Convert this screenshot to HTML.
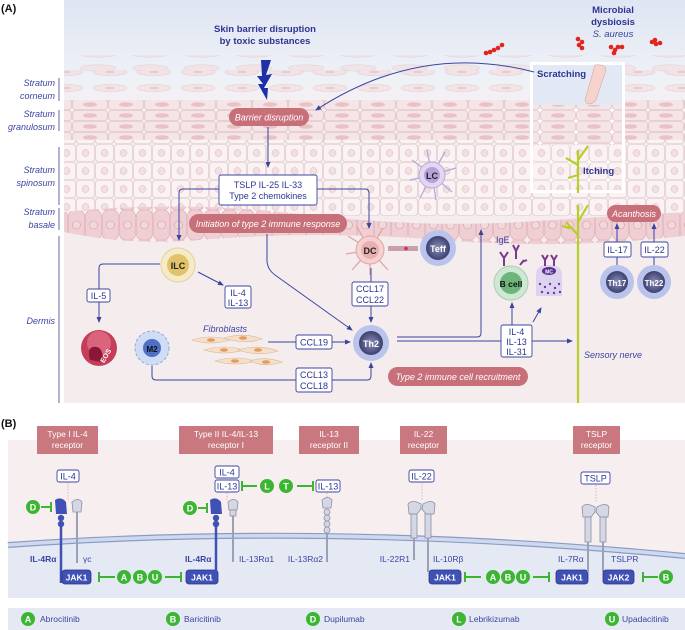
<!DOCTYPE html>
<html><head><meta charset="utf-8"><style>
html,body{margin:0;padding:0;background:#fff;}
svg{display:block;font-family:"Liberation Sans",sans-serif;}
.bx{fill:#fff;stroke:#3b45a0;stroke-width:0.9;}
.t{font-size:9px;fill:#2e3592;text-anchor:middle;}
.ln{stroke:#3b45a0;stroke-width:1;fill:none;}
.pill{fill:#c8707a;}
.pt{font-size:9px;fill:#fff;font-style:italic;text-anchor:middle;}
.hd{fill:#c9787f;}
.ht{font-size:8.5px;fill:#fff;text-anchor:middle;}
.g{fill:#3cb532;}
.gt{font-size:9px;fill:#fff;font-weight:bold;text-anchor:middle;}
.gl{stroke:#3cb532;stroke-width:2;fill:none;}
.jak{fill:#3f51b5;stroke:#2a3585;stroke-width:0.8;}
.jt{font-size:8.5px;fill:#fff;font-weight:bold;text-anchor:middle;}
.rl{font-size:8.5px;fill:#3b45a0;}
.sl{font-size:9px;fill:#3b45a0;font-style:italic;text-anchor:end;}
.gr{fill:#d5d8e4;stroke:#8a8fa3;stroke-width:0.8;}
</style></head><body>
<svg width="685" height="630" viewBox="0 0 685 630" xmlns="http://www.w3.org/2000/svg">
<defs>
<linearGradient id="sky" x1="0" y1="0" x2="0" y2="1">
<stop offset="0" stop-color="#dfe5f2"/><stop offset="0.7" stop-color="#eef1f7"/><stop offset="1" stop-color="#f6f0f1"/>
</linearGradient>
<pattern id="gran" width="36" height="11" patternUnits="userSpaceOnUse">
<rect x="0.5" y="0.5" width="35" height="10" rx="3" fill="#f6e5e7" stroke="#d9b8bc" stroke-width="0.6"/>
<ellipse cx="18" cy="5.5" rx="7" ry="2.3" fill="#e9c2c7"/>
</pattern>
<pattern id="spin" width="19" height="18" patternUnits="userSpaceOnUse">
<rect x="0.5" y="0.5" width="18" height="17" rx="3" fill="#faf2f3" stroke="#ddc6c9" stroke-width="0.6"/>
<circle cx="9.5" cy="9" r="3.5" fill="#f3dfe1" stroke="#d8b8bc" stroke-width="0.5"/>
</pattern>
<pattern id="bas" width="17" height="30" patternUnits="userSpaceOnUse">
<rect x="0.5" y="0" width="16" height="30" rx="6" fill="#efcfd3" stroke="#dcaab0" stroke-width="0.6"/>
<circle cx="8.5" cy="15" r="4" fill="#f2d8db" stroke="#d3a0a6" stroke-width="0.6"/>
</pattern>
<pattern id="corn" width="44" height="16" patternUnits="userSpaceOnUse">
<ellipse cx="22" cy="8" rx="17" ry="3.5" fill="#f3e2e4" stroke="#dcc0c3" stroke-width="0.5"/>
<ellipse cx="22" cy="8" rx="5" ry="1.2" fill="#e7c7cb"/>
</pattern>
<pattern id="corn2" width="52" height="14" patternUnits="userSpaceOnUse" patternTransform="translate(20,5)">
<ellipse cx="26" cy="7" rx="18" ry="3.2" fill="#f1dfe1" stroke="#dcc0c3" stroke-width="0.5"/>
</pattern>
<radialGradient id="blueCell"><stop offset="0" stop-color="#8a8fb5"/><stop offset="1" stop-color="#3d4070"/></radialGradient>
<marker id="ar" markerWidth="6" markerHeight="6" refX="5" refY="3" orient="auto"><path d="M0,0.5 L6,3 L0,5.5 z" fill="#3b45a0"/></marker>
</defs>

<!-- PANEL A -->
<text x="1" y="12" font-size="11" font-weight="bold" fill="#111">(A)</text>
<rect x="64" y="0" width="621" height="403" fill="#f4eced"/>
<rect x="64" y="0" width="621" height="110" fill="url(#sky)"/>
<rect x="64" y="55" width="621" height="22" fill="url(#corn2)" opacity="0.7"/>
<rect x="64" y="70" width="621" height="32" fill="url(#corn)" opacity="0.9"/>
<rect x="64" y="100" width="621" height="42" fill="url(#gran)"/>
<rect x="64" y="140" width="621" height="76" fill="url(#spin)"/>
<path d="M64,212 Q180,200 300,214 T520,222 T685,212 L685,236 Q560,250 440,240 T200,240 T64,232 Z" fill="url(#bas)"/>
<path d="M64,232 Q130,246 200,240 T440,240 Q560,250 685,236 L685,403 L64,403 Z" fill="#f4eced"/>

<g class="sl">
<text x="55" y="86">Stratum</text><text x="55" y="99">corneum</text>
<text x="55" y="117">Stratum</text><text x="55" y="130">granulosum</text>
<text x="55" y="173">Stratum</text><text x="55" y="186">spinosum</text>
<text x="55" y="215">Stratum</text><text x="55" y="228">basale</text>
<text x="55" y="324">Dermis</text>
</g>
<g stroke="#3b45a0" stroke-width="0.8">
<line x1="59" y1="78" x2="59" y2="101"/><line x1="59" y1="110" x2="59" y2="131"/>
<line x1="59" y1="147" x2="59" y2="205"/><line x1="59" y1="208" x2="59" y2="230"/>
<line x1="59" y1="236" x2="59" y2="403"/>
</g>

<text x="265" y="32" font-size="9.5" font-weight="bold" fill="#2e3592" text-anchor="middle">Skin barrier disruption</text>
<text x="265" y="44" font-size="9.5" font-weight="bold" fill="#2e3592" text-anchor="middle">by toxic substances</text>
<path d="M261,60 L271,60 L266,75 L272,74 L264,88 L268,88 L267,100 L258,84 L263,84 L257,76 L262,76 Z" fill="#1f2fa8"/>

<text x="613" y="13" font-size="9.5" font-weight="bold" fill="#2e3592" text-anchor="middle">Microbial</text>
<text x="613" y="25" font-size="9.5" font-weight="bold" fill="#2e3592" text-anchor="middle">dysbiosis</text>
<text x="613" y="37" font-size="9.5" font-style="italic" fill="#3b45a0" text-anchor="middle">S. aureus</text>
<g fill="#e3231e">
<circle cx="486" cy="53" r="2.3"/><circle cx="490" cy="52" r="2.3"/><circle cx="494" cy="50" r="2.3"/><circle cx="498" cy="48" r="2.3"/><circle cx="502" cy="45" r="2.3"/>
<circle cx="578" cy="39" r="2.3"/><circle cx="582" cy="42" r="2.3"/><circle cx="579" cy="45" r="2.3"/><circle cx="582" cy="48" r="2.3"/>
<circle cx="611" cy="47" r="2.3"/><circle cx="615" cy="50" r="2.3"/><circle cx="618" cy="47" r="2.3"/><circle cx="622" cy="47" r="2.3"/><circle cx="614" cy="53" r="2.3"/>
<circle cx="652" cy="42" r="2.3"/><circle cx="656" cy="44" r="2.3"/><circle cx="660" cy="43" r="2.3"/><circle cx="655" cy="40" r="2.3"/>
</g>

<rect x="530" y="62" width="95" height="131" fill="#fff"/>
<rect x="533" y="65" width="89" height="40" fill="#e3e9f4"/>
<rect x="533" y="105" width="89" height="40" fill="url(#gran)"/>
<rect x="533" y="145" width="89" height="45" fill="url(#spin)"/>
<path d="M595,65 Q606,64 606,70 L596,100 Q588,108 585,100 Z" fill="#f6d4cd" stroke="#d9a79d" stroke-width="0.6"/>
<text x="537" y="77" font-size="9.5" font-weight="bold" fill="#2e3592">Scratching</text>
<path d="M578,193 L578,150 M578,165 L566,158 M578,160 L588,146 M578,175 L568,178" stroke="#b6cf2a" stroke-width="2.2" fill="none"/>
<text x="583" y="174" font-size="9.5" font-weight="bold" fill="#2e3592">Itching</text>
<path d="M534,72 Q420,42 316,110" class="ln" marker-end="url(#ar)"/>

<path d="M578,403 L578,205 M578,235 L566,222 M578,222 L588,205 M570,228 L562,226" stroke="#b6cf2a" stroke-width="2.2" fill="none"/>
<text x="613" y="358" font-size="9" font-style="italic" fill="#3b45a0" text-anchor="middle">Sensory nerve</text>

<rect x="229" y="108" width="80" height="18" rx="9" class="pill"/>
<text x="269" y="120.5" class="pt">Barrier disruption</text>
<line x1="268" y1="127" x2="268" y2="167" class="ln" marker-end="url(#ar)"/>
<rect x="219" y="175" width="98" height="30" rx="2" class="bx"/>
<text x="268" y="188" class="t">TSLP   IL-25   IL-33</text>
<text x="268" y="199" class="t">Type 2 chemokines</text>
<path d="M219,189 L183,189 Q179,189 179,193 L179,240" class="ln" marker-end="url(#ar)"/>
<path d="M317,189 L365,189 Q369,189 369,193 L369,228" class="ln" marker-end="url(#ar)"/>
<rect x="189" y="214" width="158" height="19" rx="9.5" class="pill"/>
<text x="268" y="227" class="pt">Initiation of type 2 immune response</text>
<rect x="607" y="205" width="54" height="17" rx="8.5" class="pill"/>
<text x="634" y="217" class="pt">Acanthosis</text>
<rect x="388" y="367" width="140" height="19" rx="9.5" class="pill"/>
<text x="458" y="380" class="pt">Type 2 immune cell recruitment</text>

<g stroke="#b7a9d6" stroke-width="1.3">
<line x1="432" y1="175" x2="412" y2="160"/><line x1="432" y1="175" x2="410" y2="180"/><line x1="432" y1="175" x2="420" y2="198"/><line x1="432" y1="175" x2="436" y2="200"/><line x1="432" y1="175" x2="452" y2="192"/><line x1="432" y1="175" x2="456" y2="168"/><line x1="432" y1="175" x2="445" y2="152"/><line x1="432" y1="175" x2="427" y2="150"/>
</g>
<circle cx="432" cy="175" r="13" fill="#e2d6f2" stroke="#b7a9d6"/>
<circle cx="432" cy="175" r="8" fill="#b6a2d9"/>
<text x="432" y="179" font-size="9" font-weight="bold" fill="#222" text-anchor="middle">LC</text>

<g stroke="#e0a5a5" stroke-width="1.3">
<line x1="370" y1="250" x2="348" y2="236"/><line x1="370" y1="250" x2="346" y2="254"/><line x1="370" y1="250" x2="352" y2="270"/><line x1="370" y1="250" x2="370" y2="275"/><line x1="370" y1="250" x2="388" y2="270"/><line x1="370" y1="250" x2="357" y2="227"/><line x1="370" y1="250" x2="383" y2="228"/>
</g>
<circle cx="370" cy="250" r="14" fill="#f5d2d1" stroke="#e0a5a5"/>
<circle cx="370" cy="250" r="9" fill="#eab0b0"/>
<text x="370" y="254" font-size="9" font-weight="bold" fill="#222" text-anchor="middle">DC</text>
<rect x="388" y="246" width="30" height="5" fill="#c9a0a8"/><circle cx="406" cy="248.5" r="1.8" fill="#e0206f"/>
<circle cx="438" cy="248" r="18" fill="#b9c3ec"/><circle cx="438" cy="248" r="12" fill="url(#blueCell)"/>
<text x="438" y="252" font-size="9" font-weight="bold" fill="#fff" text-anchor="middle">Teff</text>

<circle cx="178" cy="265" r="17" fill="#f5ebc9" stroke="#e3d39a"/><circle cx="178" cy="265" r="11" fill="#e2c36a"/>
<text x="178" y="269" font-size="9" font-weight="bold" fill="#222" text-anchor="middle">ILC</text>
<path d="M160,264 L103,264 Q99,264 99,268 L99,322" class="ln" marker-end="url(#ar)"/>
<rect x="87" y="289" width="23" height="13" rx="2" class="bx"/><text x="98.5" y="299" class="t">IL-5</text>
<line x1="198" y1="272" x2="223" y2="285" class="ln" marker-end="url(#ar)"/>
<rect x="225" y="286" width="26" height="22" rx="2" class="bx"/><text x="238" y="296" class="t">IL-4</text><text x="238" y="306" class="t">IL-13</text>

<circle cx="99" cy="348" r="18" fill="#c43e5a"/><circle cx="99" cy="343" r="12" fill="#e77f93" opacity="0.6"/>
<path d="M90,360 Q86,345 97,347 Q104,349 102,362 Z" fill="#8a1736"/>
<text x="106" y="358" font-size="7" font-weight="bold" fill="#fff" text-anchor="middle" transform="rotate(-60 106 356)">EOS</text>
<circle cx="152" cy="348" r="17" fill="#cfdcf5" stroke="#93a9d8" stroke-dasharray="3 2"/>
<circle cx="152" cy="348" r="9" fill="#4f6fc4"/>
<text x="152" y="352" font-size="8" font-weight="bold" fill="#111" text-anchor="middle">M2</text>

<text x="225" y="332" font-size="9" font-style="italic" fill="#3b45a0" text-anchor="middle">Fibroblasts</text>
<g fill="#f6dfc9" stroke="#d7b797" stroke-width="0.6">
<path d="M192,340 Q210,334 230,340 Q210,346 192,340 Z"/><path d="M224,338 Q245,332 262,339 Q245,345 224,338 Z"/>
<path d="M204,350 Q224,344 244,350 Q224,356 204,350 Z"/><path d="M238,350 Q258,344 278,351 Q258,357 238,350 Z"/>
<path d="M215,361 Q235,355 255,361 Q235,367 215,361 Z"/><path d="M250,361 Q265,356 282,362 Q265,368 250,361 Z"/>
</g>
<g fill="#e39c5e"><ellipse cx="211" cy="340" rx="4" ry="1.8"/><ellipse cx="243" cy="338" rx="4" ry="1.8"/><ellipse cx="224" cy="350" rx="4" ry="1.8"/><ellipse cx="258" cy="350" rx="4" ry="1.8"/><ellipse cx="235" cy="361" rx="4" ry="1.8"/><ellipse cx="266" cy="362" rx="4" ry="1.8"/></g>
<line x1="268" y1="342" x2="296" y2="342" class="ln"/>
<rect x="296" y="335" width="36" height="14" rx="2" class="bx"/><text x="314" y="345.5" class="t">CCL19</text>
<line x1="332" y1="342" x2="350" y2="342" class="ln" marker-end="url(#ar)"/>

<circle cx="371" cy="343" r="18" fill="#b9c3ec"/><circle cx="371" cy="343" r="12" fill="url(#blueCell)"/>
<text x="371" y="347" font-size="9" font-weight="bold" fill="#fff" text-anchor="middle">Th2</text>
<line x1="371" y1="268" x2="371" y2="282" class="ln"/>
<rect x="352" y="282" width="36" height="24" rx="2" class="bx"/><text x="370" y="292" class="t">CCL17</text><text x="370" y="303" class="t">CCL22</text>
<line x1="371" y1="306" x2="371" y2="322" class="ln" marker-end="url(#ar)"/>
<path d="M267,234 L267,262 Q268,270 275,275 L352,330" class="ln" marker-end="url(#ar)"/>
<path d="M152,366 L152,376 Q152,380 156,380 L296,380" class="ln"/>
<rect x="296" y="368" width="36" height="24" rx="2" class="bx"/><text x="314" y="378" class="t">CCL13</text><text x="314" y="389" class="t">CCL18</text>
<path d="M332,380 L367,380 Q371,380 371,376 L371,363" class="ln" marker-end="url(#ar)"/>
<path d="M397,337 L477,337 Q481,337 481,333 L481,230" class="ln" marker-end="url(#ar)"/>
<line x1="397" y1="341" x2="501" y2="341" class="ln"/>
<rect x="501" y="325" width="31" height="32" rx="2" class="bx"/><text x="516.5" y="335" class="t">IL-4</text><text x="516.5" y="345" class="t">IL-13</text><text x="516.5" y="355" class="t">IL-31</text>
<line x1="532" y1="341" x2="572" y2="341" class="ln" marker-end="url(#ar)"/>
<line x1="512" y1="325" x2="512" y2="303" class="ln" marker-end="url(#ar)"/>
<line x1="533" y1="322" x2="541" y2="308" class="ln" marker-end="url(#ar)"/>

<text x="496" y="243" font-size="9" fill="#3b45a0">IgE</text>
<g stroke="#7b3a8c" stroke-width="2" fill="none"><path d="M500,252 L504,258 L508,252 M504,258 L504,266"/><path d="M513,245 L516,251 L519,245 M516,251 L516,259"/><path d="M520,265 L524,260 M522,262 L527,260"/></g>
<circle cx="511" cy="283" r="17" fill="#cfe8d3" stroke="#a6cfae"/><circle cx="511" cy="283" r="11" fill="#6db57a"/>
<text x="511" y="287" font-size="8.5" font-weight="bold" fill="#111" text-anchor="middle">B cell</text>
<path d="M536,275 Q536,265 549,265 Q562,265 562,275 L562,296 L536,296 Z" fill="#dcd3f0"/>
<ellipse cx="549" cy="271" rx="7" ry="4" fill="#5b2f8c"/><text x="549" y="273.5" font-size="5" fill="#fff" font-weight="bold" text-anchor="middle">MC</text>
<g fill="#6b3aa0"><circle cx="540" cy="284" r="1.2"/><circle cx="545" cy="287" r="1.2"/><circle cx="550" cy="284" r="1.2"/><circle cx="555" cy="288" r="1.2"/><circle cx="559" cy="284" r="1.2"/><circle cx="542" cy="292" r="1.2"/><circle cx="548" cy="293" r="1.2"/><circle cx="554" cy="293" r="1.2"/><circle cx="560" cy="292" r="1.2"/></g>
<g stroke="#7b3a8c" stroke-width="2" fill="none"><path d="M542,255 L545,260 L548,255 M545,260 L545,266"/><path d="M551,255 L554,260 L557,255 M554,260 L554,266"/></g>

<line x1="617" y1="242" x2="617" y2="224" class="ln" marker-end="url(#ar)"/>
<line x1="654" y1="242" x2="654" y2="224" class="ln" marker-end="url(#ar)"/>
<rect x="604" y="242" width="27" height="15" rx="2" class="bx"/><text x="617.5" y="253" class="t">IL-17</text>
<rect x="641" y="242" width="27" height="15" rx="2" class="bx"/><text x="654.5" y="253" class="t">IL-22</text>
<line x1="617" y1="257" x2="617" y2="265" class="ln"/><line x1="654" y1="257" x2="654" y2="265" class="ln"/>
<circle cx="617" cy="282" r="17" fill="#b9c3ec"/><circle cx="617" cy="282" r="11" fill="url(#blueCell)"/>
<text x="617" y="286" font-size="8" font-weight="bold" fill="#fff" text-anchor="middle">Th17</text>
<circle cx="654" cy="282" r="17" fill="#b9c3ec"/><circle cx="654" cy="282" r="11" fill="url(#blueCell)"/>
<text x="654" y="286" font-size="8" font-weight="bold" fill="#fff" text-anchor="middle">Th22</text>

<!-- PANEL B -->
<text x="1" y="427" font-size="11" font-weight="bold" fill="#111">(B)</text>
<rect x="8" y="440" width="677" height="158" fill="#f7efef"/>
<path d="M8,545 Q330,522 685,556 L685,598 L8,598 Z" fill="#e4e9f4"/>
<path d="M8,545 Q330,522 685,556" stroke="#8b9bc6" stroke-width="6" fill="none"/>
<path d="M8,545 Q330,522 685,556" stroke="#cfd9ee" stroke-width="3.6" fill="none"/>

<g>
<rect x="37" y="426" width="61" height="28" class="hd"/><text x="67.5" y="437" class="ht">Type I IL-4</text><text x="67.5" y="448" class="ht">receptor</text>
<rect x="179" y="426" width="94" height="28" class="hd"/><text x="226" y="437" class="ht">Type II IL-4/IL-13</text><text x="226" y="448" class="ht">receptor I</text>
<rect x="299" y="426" width="60" height="28" class="hd"/><text x="329" y="437" class="ht">IL-13</text><text x="329" y="448" class="ht">receptor II</text>
<rect x="400" y="426" width="47" height="28" class="hd"/><text x="423.5" y="437" class="ht">IL-22</text><text x="423.5" y="448" class="ht">receptor</text>
<rect x="573" y="426" width="47" height="28" class="hd"/><text x="596.5" y="437" class="ht">TSLP</text><text x="596.5" y="448" class="ht">receptor</text>
</g>

<g stroke="#e4a3ad" stroke-width="0.8" stroke-dasharray="1.5 1.5">
<line x1="68" y1="483" x2="68" y2="500"/><line x1="227" y1="493" x2="227" y2="500"/><line x1="327" y1="493" x2="327" y2="500"/><line x1="422" y1="483" x2="422" y2="500"/><line x1="596" y1="485" x2="596" y2="502"/>
</g>
<rect x="57" y="470" width="22" height="12" rx="2" class="bx"/><text x="68" y="479.5" class="t" font-size="8.5">IL-4</text>
<rect x="215" y="466" width="24" height="12" rx="2" class="bx"/><text x="227" y="475.5" class="t" font-size="8.5">IL-4</text>
<rect x="215" y="480" width="24" height="12" rx="2" class="bx"/><text x="227" y="489.5" class="t" font-size="8.5">IL-13</text>
<rect x="316" y="480" width="24" height="12" rx="2" class="bx"/><text x="328" y="489.5" class="t" font-size="8.5">IL-13</text>
<rect x="409" y="470" width="25" height="12" rx="2" class="bx"/><text x="421.5" y="479.5" class="t" font-size="8.5">IL-22</text>
<rect x="581" y="472" width="29" height="12" rx="2" class="bx"/><text x="595.5" y="481.5" class="t" font-size="8.5">TSLP</text>

<line x1="61" y1="515" x2="61" y2="583" stroke="#3f51b5" stroke-width="2.5"/>
<path d="M55,500 Q61,496 66,502 L67,514 L56,514 Z" fill="#3f51b5"/>
<circle cx="61" cy="518" r="3.2" fill="#3f51b5"/><circle cx="61" cy="524" r="3.2" fill="#3f51b5"/>
<line x1="77" y1="512" x2="77" y2="563" stroke="#9aa0b5" stroke-width="2"/>
<path d="M72,502 Q78,497 82,502 L81,512 L73,512 Z" class="gr"/>
<line x1="41" y1="507" x2="50" y2="507" class="gl"/><line x1="51" y1="502" x2="51" y2="512" class="gl"/>
<circle cx="33" cy="507" r="7" class="g"/><text x="33" y="510.5" class="gt">D</text>
<text x="30" y="562" class="rl" font-weight="bold">IL-4Rα</text><text x="83" y="562" class="rl">γc</text>
<rect x="62" y="570" width="29" height="14" rx="3" class="jak"/><text x="76.5" y="580.5" class="jt">JAK1</text>
<line x1="100" y1="577" x2="115" y2="577" class="gl"/><line x1="99" y1="572" x2="99" y2="582" class="gl"/>
<circle cx="124" cy="577" r="7" class="g"/><text x="124" y="580.5" class="gt">A</text>
<circle cx="140" cy="577" r="7" class="g"/><text x="140" y="580.5" class="gt">B</text>
<circle cx="155" cy="577" r="7" class="g"/><text x="155" y="580.5" class="gt">U</text>
<line x1="165" y1="577" x2="180" y2="577" class="gl"/><line x1="181" y1="572" x2="181" y2="582" class="gl"/>
<rect x="186" y="570" width="32" height="14" rx="3" class="jak"/><text x="202" y="580.5" class="jt">JAK1</text>
<line x1="216" y1="515" x2="216" y2="577" stroke="#3f51b5" stroke-width="2.5"/>
<path d="M210,500 Q216,496 221,502 L222,514 L211,514 Z" fill="#3f51b5"/>
<circle cx="216" cy="518" r="3.2" fill="#3f51b5"/><circle cx="216" cy="524" r="3.2" fill="#3f51b5"/>
<line x1="233" y1="512" x2="233" y2="562" stroke="#9aa0b5" stroke-width="2"/>
<path d="M228,502 Q234,497 238,502 L237,510 L229,510 Z" class="gr"/><rect x="230" y="510" width="6" height="6" class="gr"/>
<line x1="198" y1="508" x2="206" y2="508" class="gl"/><line x1="207" y1="503" x2="207" y2="513" class="gl"/>
<circle cx="190" cy="508" r="7" class="g"/><text x="190" y="511.5" class="gt">D</text>
<text x="185" y="562" class="rl" font-weight="bold">IL-4Rα</text><text x="239" y="562" class="rl">IL-13Rα1</text>
<line x1="242" y1="486" x2="257" y2="486" class="gl"/><line x1="242" y1="481" x2="242" y2="491" class="gl"/>
<circle cx="267" cy="486" r="7" class="g"/><text x="267" y="489.5" class="gt">L</text>
<circle cx="286" cy="486" r="7" class="g"/><text x="286" y="489.5" class="gt">T</text>
<line x1="297" y1="486" x2="312" y2="486" class="gl"/><line x1="313" y1="481" x2="313" y2="491" class="gl"/>
<line x1="327" y1="512" x2="327" y2="562" stroke="#9aa0b5" stroke-width="2"/>
<path d="M322,500 Q328,495 332,500 L331,508 L323,508 Z" class="gr"/>
<circle cx="327" cy="512" r="3" class="gr"/><circle cx="327" cy="518" r="3" class="gr"/><circle cx="327" cy="524" r="3" class="gr"/><circle cx="327" cy="530" r="3" class="gr"/>
<text x="323" y="562" class="rl" text-anchor="end">IL-13Rα2</text>
<path d="M408,504 Q412,499 421,504 L421,509 L417,514 L409,514 Z" class="gr"/><path d="M423,504 Q432,499 435,504 L434,514 L426,514 L422,509 Z" class="gr"/>
<rect x="411" y="514" width="6" height="24" class="gr"/><rect x="425" y="514" width="6" height="24" class="gr"/>
<line x1="414" y1="538" x2="414" y2="560" stroke="#9aa0b5" stroke-width="2"/><line x1="428" y1="538" x2="428" y2="572" stroke="#9aa0b5" stroke-width="2"/>
<text x="410" y="562" class="rl" text-anchor="end">IL-22R1</text><text x="433" y="562" class="rl">IL-10Rβ</text>
<rect x="429" y="570" width="32" height="14" rx="3" class="jak"/><text x="445" y="580.5" class="jt">JAK1</text>
<line x1="466" y1="577" x2="481" y2="577" class="gl"/><line x1="465" y1="572" x2="465" y2="582" class="gl"/>
<circle cx="493" cy="577" r="7" class="g"/><text x="493" y="580.5" class="gt">A</text>
<circle cx="508" cy="577" r="7" class="g"/><text x="508" y="580.5" class="gt">B</text>
<circle cx="523" cy="577" r="7" class="g"/><text x="523" y="580.5" class="gt">U</text>
<line x1="533" y1="577" x2="548" y2="577" class="gl"/><line x1="549" y1="572" x2="549" y2="582" class="gl"/>
<rect x="556" y="570" width="32" height="14" rx="3" class="jak"/><text x="572" y="580.5" class="jt">JAK1</text>
<path d="M582,507 Q586,502 595,507 L595,512 L591,517 L583,517 Z" class="gr"/><path d="M597,507 Q606,502 609,507 L608,517 L600,517 L596,512 Z" class="gr"/>
<rect x="585" y="517" width="6" height="25" class="gr"/><rect x="600" y="517" width="6" height="25" class="gr"/>
<line x1="588" y1="542" x2="588" y2="572" stroke="#9aa0b5" stroke-width="2"/><line x1="603" y1="542" x2="603" y2="572" stroke="#9aa0b5" stroke-width="2"/>
<text x="558" y="562" class="rl">IL-7Rα</text><text x="611" y="562" class="rl">TSLPR</text>
<rect x="603" y="570" width="31" height="14" rx="3" class="jak"/><text x="618.5" y="580.5" class="jt">JAK2</text>
<line x1="644" y1="577" x2="658" y2="577" class="gl"/><line x1="643" y1="572" x2="643" y2="582" class="gl"/>
<circle cx="666" cy="577" r="7" class="g"/><text x="666" y="580.5" class="gt">B</text>

<rect x="8" y="608" width="677" height="22" fill="#e4e9f4"/>
<g font-size="8.5" fill="#3b45a0">
<circle cx="28" cy="619" r="7" class="g"/><text x="28" y="622.5" class="gt">A</text><text x="40" y="622">Abrocitinib</text>
<circle cx="173" cy="619" r="7" class="g"/><text x="173" y="622.5" class="gt">B</text><text x="184" y="622">Baricitinib</text>
<circle cx="313" cy="619" r="7" class="g"/><text x="313" y="622.5" class="gt">D</text><text x="324" y="622">Dupilumab</text>
<circle cx="459" cy="619" r="7" class="g"/><text x="459" y="622.5" class="gt">L</text><text x="469" y="622">Lebrikizumab</text>
<circle cx="612" cy="619" r="7" class="g"/><text x="612" y="622.5" class="gt">U</text><text x="622" y="622">Upadacitinib</text>
</g>
</svg>
</body></html>
